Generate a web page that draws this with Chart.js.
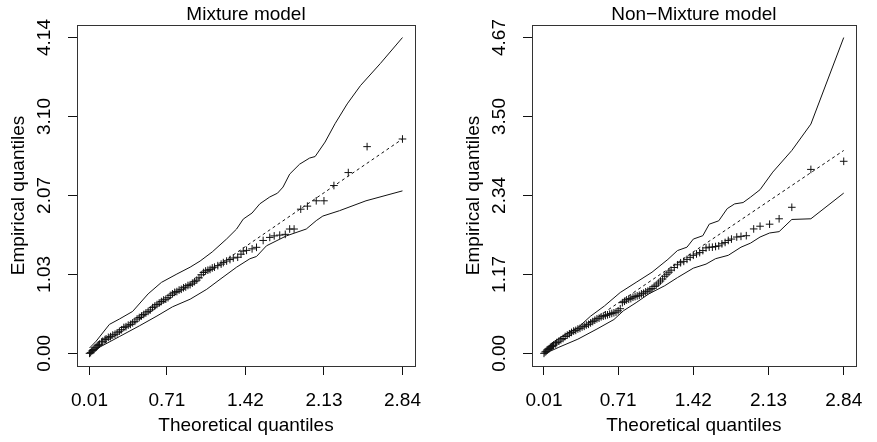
<!DOCTYPE html>
<html>
<head>
<meta charset="utf-8">
<script src="https://cdn.jsdelivr.net/npm/chart.js@4.4.1/dist/chart.umd.min.js"></script>
<style>
  html, body { margin: 0; padding: 0; background: #fff; overflow: hidden; }
  #left { position: absolute; left: 0; top: 0; }
  #right { position: absolute; left: 438px; top: 0; }
</style>
</head>
<body>
<canvas id="left" width="438" height="442"></canvas>
<canvas id="right" width="439" height="442"></canvas>
<script>
// tick values shared by both panels
var xTickValues = [0.01, 0.71, 1.42, 2.13, 2.84];
var xTickLabels = ['0.01', '0.71', '1.42', '2.13', '2.84'];

// Mixture model
var mixYTickValues = [0, 1.035, 2.07, 3.105, 4.14];
var mixYTickLabels = ['0.00', '1.03', '2.07', '3.10', '4.14'];

var mixPointsX = [0.01, 0.02, 0.03, 0.04, 0.05, 0.06, 0.07, 0.08, 0.09, 0.10, 0.12, 0.13, 0.15, 0.16, 0.18, 0.20,
    0.22, 0.24, 0.26, 0.28, 0.30, 0.32, 0.34, 0.36, 0.38, 0.40, 0.42, 0.44, 0.46, 0.48, 0.50, 0.52, 0.54, 0.56,
    0.58, 0.60, 0.62, 0.64, 0.66, 0.68, 0.70, 0.72, 0.74, 0.76, 0.78, 0.80, 0.82, 0.84, 0.86, 0.88, 0.90, 0.92,
    0.94, 0.96, 0.98, 1.00, 1.02, 1.04, 1.06, 1.08, 1.10, 1.12, 1.14, 1.17, 1.20, 1.22, 1.25, 1.28, 1.31, 1.35,
    1.38, 1.40, 1.43, 1.48, 1.52, 1.58, 1.64, 1.68, 1.73, 1.78, 1.82, 1.86, 1.92, 1.98, 2.06, 2.13, 2.22, 2.35,
    2.52, 2.84];
var mixPointsY = [0.00, 0.01, 0.03, 0.04, 0.05, 0.07, 0.08, 0.10, 0.11, 0.12, 0.15, 0.16, 0.18, 0.19, 0.21, 0.22,
    0.24, 0.25, 0.27, 0.29, 0.31, 0.34, 0.35, 0.37, 0.38, 0.40, 0.42, 0.45, 0.47, 0.49, 0.51, 0.53, 0.55, 0.57,
    0.60, 0.62, 0.64, 0.66, 0.68, 0.70, 0.71, 0.73, 0.76, 0.78, 0.80, 0.81, 0.83, 0.84, 0.86, 0.87, 0.89, 0.90,
    0.92, 0.94, 0.96, 0.99, 1.03, 1.06, 1.08, 1.09, 1.10, 1.12, 1.13, 1.15, 1.17, 1.19, 1.21, 1.23, 1.25, 1.26,
    1.30, 1.34, 1.35, 1.37, 1.39, 1.48, 1.52, 1.54, 1.55, 1.56, 1.63, 1.63, 1.89, 1.93, 2.00, 2.00, 2.20, 2.37,
    2.71, 2.81];

var mixUpperX = [0.01, 0.07, 0.19, 0.28, 0.40, 0.54, 0.66, 0.80, 0.92, 1.01, 1.12, 1.25, 1.34, 1.40, 1.48, 1.55,
    1.64, 1.71, 1.76, 1.82, 1.91, 2.00, 2.05, 2.14, 2.23, 2.34, 2.46, 2.64, 2.84];
var mixUpperY = [0.07, 0.16, 0.38, 0.45, 0.55, 0.78, 0.93, 1.04, 1.13, 1.21, 1.33, 1.50, 1.63, 1.76, 1.84, 1.96,
    2.05, 2.10, 2.18, 2.35, 2.48, 2.56, 2.58, 2.77, 3.01, 3.27, 3.51, 3.80, 4.14];

var mixLowerX = [0.01, 0.10, 0.28, 0.46, 0.62, 0.76, 0.92, 1.07, 1.19, 1.34, 1.46, 1.52, 1.61, 1.79, 1.97, 2.06,
    2.12, 2.27, 2.51, 2.84];
var mixLowerY = [0.00, 0.08, 0.22, 0.36, 0.49, 0.61, 0.71, 0.84, 0.97, 1.13, 1.24, 1.27, 1.41, 1.54, 1.63, 1.74,
    1.80, 1.87, 2.00, 2.13];

var mixRefX = [0.01, 1.42, 2.84];
var mixRefY = [0.00, 1.40, 2.81];

// Non-Mixture model
var nonYTickValues = [0, 1.1675, 2.335, 3.5025, 4.67];
var nonYTickLabels = ['0.00', '1.17', '2.34', '3.50', '4.67'];

var nonPointsX = [0.01, 0.02, 0.03, 0.04, 0.05, 0.06, 0.07, 0.08, 0.09, 0.10, 0.12, 0.13, 0.15, 0.17, 0.19, 0.21,
    0.23, 0.25, 0.27, 0.29, 0.31, 0.33, 0.35, 0.37, 0.39, 0.41, 0.43, 0.45, 0.47, 0.49, 0.51, 0.53, 0.55, 0.57,
    0.59, 0.61, 0.63, 0.65, 0.67, 0.69, 0.71, 0.73, 0.75, 0.77, 0.79, 0.81, 0.83, 0.85, 0.87, 0.89, 0.91, 0.93,
    0.95, 0.97, 0.99, 1.01, 1.03, 1.05, 1.07, 1.09, 1.11, 1.13, 1.15, 1.17, 1.19, 1.21, 1.24, 1.27, 1.30, 1.33,
    1.36, 1.39, 1.42, 1.45, 1.48, 1.51, 1.54, 1.57, 1.60, 1.63, 1.66, 1.69, 1.72, 1.75, 1.78, 1.83, 1.87, 1.92,
    1.99, 2.05, 2.14, 2.23, 2.35, 2.53, 2.84];
var nonPointsY = [0.00, 0.02, 0.03, 0.05, 0.06, 0.07, 0.09, 0.10, 0.11, 0.12, 0.14, 0.16, 0.18, 0.20, 0.22, 0.25,
    0.27, 0.29, 0.31, 0.33, 0.34, 0.36, 0.37, 0.39, 0.40, 0.42, 0.43, 0.45, 0.47, 0.49, 0.51, 0.52, 0.54, 0.55,
    0.56, 0.57, 0.58, 0.59, 0.60, 0.61, 0.63, 0.66, 0.75, 0.77, 0.79, 0.80, 0.81, 0.83, 0.84, 0.85, 0.86, 0.88,
    0.89, 0.91, 0.92, 0.94, 0.96, 0.99, 1.01, 1.04, 1.07, 1.10, 1.14, 1.17, 1.20, 1.23, 1.27, 1.31, 1.34, 1.36,
    1.39, 1.42, 1.45, 1.47, 1.49, 1.52, 1.56, 1.57, 1.57, 1.58, 1.59, 1.62, 1.64, 1.67, 1.69, 1.72, 1.73, 1.74,
    1.84, 1.88, 1.91, 1.99, 2.16, 2.72, 2.84];

var nonUpperX = [0.01, 0.09, 0.21, 0.33, 0.45, 0.58, 0.73, 0.88, 1.03, 1.18, 1.27, 1.36, 1.42, 1.51, 1.57, 1.66,
    1.74, 1.81, 1.89, 1.96, 2.05, 2.17, 2.35, 2.53, 2.84];
var nonUpperY = [0.01, 0.16, 0.28, 0.38, 0.55, 0.70, 0.90, 1.05, 1.20, 1.39, 1.52, 1.57, 1.69, 1.74, 1.91, 1.96,
    2.14, 2.21, 2.23, 2.31, 2.42, 2.68, 3.00, 3.39, 4.67];

var nonLowerX = [0.01, 0.15, 0.33, 0.51, 0.67, 0.76, 0.88, 1.00, 1.15, 1.27, 1.42, 1.54, 1.63, 1.75, 1.87, 1.96,
    2.05, 2.14, 2.23, 2.35, 2.53, 2.84];
var nonLowerY = [-0.01, 0.09, 0.21, 0.36, 0.50, 0.63, 0.75, 0.88, 1.00, 1.12, 1.26, 1.32, 1.40, 1.45, 1.57, 1.63,
    1.72, 1.78, 1.80, 1.98, 1.99, 2.37];

var nonRefX = [0.01, 1.42, 2.84];
var nonRefY = [0.00, 1.50, 3.00];

var FONT = "'Liberation Sans', Arial, Helvetica, sans-serif";
var INK = '#111';

function zip(xs, ys) {
    return xs.map(function(x, i) { return {x: x, y: ys[i]}; });
}

// R style range: data range extended by 4% each side
function rRange(lo, hi) {
    var d = (hi - lo) * 0.04;
    return {min: lo - d, max: hi + d};
}

var boxPlugin = {
    id: 'box',
    afterDraw: function(chart) {
        var a = chart.chartArea;
        var ctx = chart.ctx;
        ctx.save();
        ctx.strokeStyle = '#333';
        ctx.lineWidth = 1;
        ctx.strokeRect(Math.round(a.left) + 0.5, Math.round(a.top) + 0.5,
            Math.round(a.right - a.left), Math.round(a.bottom - a.top));
        ctx.restore();
    }
};

function makePanel(id, cfg) {
    var xr = rRange(0.01, 2.84);
    var yr = rRange(0, cfg.yTicks[cfg.yTicks.length - 1]);

    var lineStyle = {
        type: 'line', showLine: true, pointRadius: 0, borderColor: INK,
        borderWidth: 1, tension: 0, fill: false
    };

    return new Chart(document.getElementById(id), {
        type: 'scatter',
        data: {
            datasets: [
                Object.assign({label: 'upper', data: zip(cfg.upperX, cfg.upperY)}, lineStyle),
                Object.assign({label: 'lower', data: zip(cfg.lowerX, cfg.lowerY)}, lineStyle),
                Object.assign({label: 'ref', data: zip(cfg.refX, cfg.refY), borderDash: [3, 3]}, lineStyle),
                {
                    label: 'quantiles',
                    data: zip(cfg.pointsX, cfg.pointsY),
                    pointStyle: 'cross',
                    pointRadius: 3.8,
                    pointBorderWidth: 1,
                    borderColor: INK,
                    backgroundColor: INK
                }
            ]
        },
        options: {
            responsive: false,
            animation: false,
            devicePixelRatio: 1,
            events: [],
            layout: {padding: cfg.padding},
            plugins: {
                legend: {display: false},
                tooltip: {enabled: false},
                title: {
                    display: true,
                    text: cfg.title,
                    fullSize: false,
                    color: '#000',
                    font: {family: FONT, size: 19, weight: 'normal', lineHeight: 1.1},
                    padding: {top: 4, bottom: 0}
                }
            },
            scales: {
                x: {
                    type: 'linear',
                    min: xr.min,
                    max: xr.max,
                    afterBuildTicks: function(scale) {
                        scale.ticks = xTickValues.map(function(v) { return {value: v}; });
                    },
                    afterFit: function(scale) { scale.height = 76; },
                    border: {display: false},
                    grid: {drawOnChartArea: false, drawTicks: true, tickLength: 9, color: INK, lineWidth: 1},
                    ticks: {
                        color: '#000',
                        font: {family: FONT, size: 19},
                        padding: 14,
                        maxRotation: 0,
                        autoSkip: false,
                        callback: function(v, i) { return xTickLabels[i]; }
                    },
                    title: {
                        display: true,
                        text: 'Theoretical quantiles',
                        color: '#000',
                        font: {family: FONT, size: 19},
                        padding: {top: 0, bottom: 5}
                    }
                },
                y: {
                    type: 'linear',
                    min: yr.min,
                    max: yr.max,
                    afterBuildTicks: function(scale) {
                        scale.ticks = cfg.yTicks.map(function(v) { return {value: v}; });
                    },
                    afterFit: function(scale) { scale.width = 77; },
                    border: {display: false},
                    grid: {drawOnChartArea: false, drawTicks: true, tickLength: 9, color: INK, lineWidth: 1},
                    ticks: {
                        color: '#000',
                        font: {family: FONT, size: 19},
                        padding: 5,
                        minRotation: 90,
                        maxRotation: 90,
                        crossAlign: 'center',
                        autoSkip: false,
                        callback: function(v, i) { return cfg.yLabels[i]; }
                    },
                    title: {
                        display: true,
                        text: 'Empirical quantiles',
                        color: '#000',
                        font: {family: FONT, size: 19},
                        padding: {top: 7, bottom: 0}
                    }
                }
            }
        },
        plugins: [boxPlugin]
    });
}

makePanel('left', {
    title: 'Mixture model',
    padding: {left: 0, right: 23, top: 0, bottom: 0},
    yTicks: mixYTickValues, yLabels: mixYTickLabels,
    pointsX: mixPointsX, pointsY: mixPointsY,
    upperX: mixUpperX, upperY: mixUpperY,
    lowerX: mixLowerX, lowerY: mixLowerY,
    refX: mixRefX, refY: mixRefY
});

makePanel('right', {
    title: 'Non\u2212Mixture model',
    padding: {left: 17, right: 7, top: 0, bottom: 0},
    yTicks: nonYTickValues, yLabels: nonYTickLabels,
    pointsX: nonPointsX, pointsY: nonPointsY,
    upperX: nonUpperX, upperY: nonUpperY,
    lowerX: nonLowerX, lowerY: nonLowerY,
    refX: nonRefX, refY: nonRefY
});
</script>
</body>
</html>
